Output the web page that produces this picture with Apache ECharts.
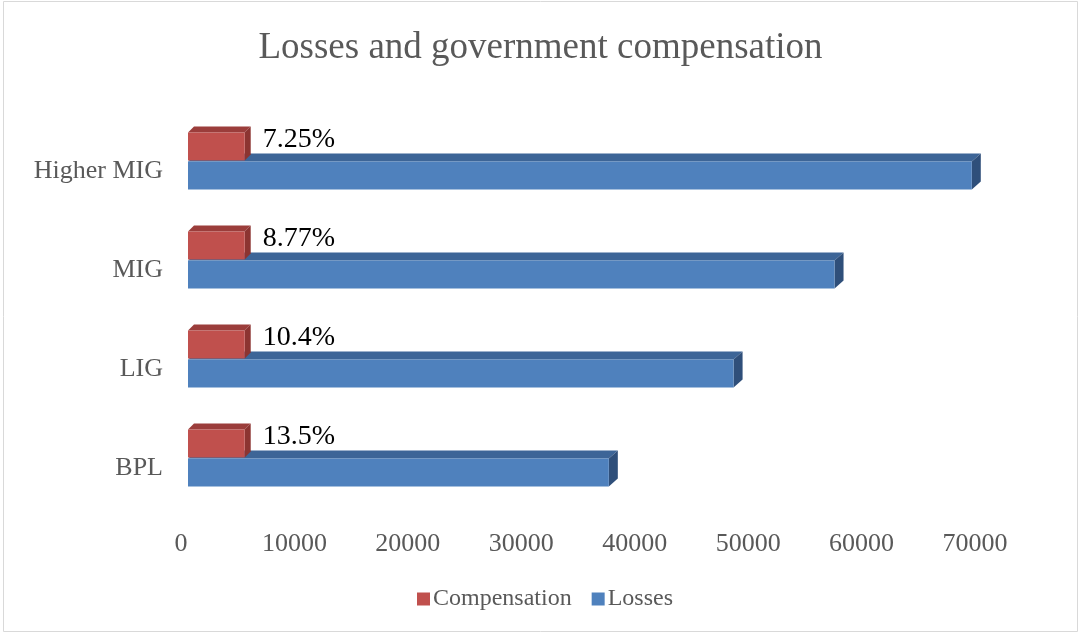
<!DOCTYPE html>
<html>
<head>
<meta charset="utf-8">
<script src="https://cdn.jsdelivr.net/npm/echarts@6/dist/echarts.min.js"></script>
<style>
html,body{margin:0;padding:0;background:#fff;}
#chart{width:1081px;height:635px;}
</style>
</head>
<body>
<div id="chart"></div>
<script>
const categories = ['BPL', 'LIG', 'MIG', 'Higher MIG'];
const losses = [37100, 48100, 57000, 69100];
const compensation = [5000, 5000, 5000, 5000];
const compLabels = ['13.5%', '10.4%', '8.77%', '7.25%'];
const xMin = 0, xMax = 70000, xInterval = 10000;

const FONT = 'Liberation Serif';

function boxRenderer(colors, y0off, y1off, dx, dy, labels) {
  return function (params, api) {
    const idx = api.value(0);
    const end = api.coord([api.value(1), idx]);
    const start = api.coord([0, idx]);
    const yc = end[1];
    const x0 = start[0], x1 = end[0];
    const top = yc + y0off, bot = yc + y1off;
    const children = [
      { type: 'polygon', shape: { points: [[x0, top], [x0 + dx, top - dy], [x1 + dx, top - dy], [x1, top]] }, style: { fill: colors.top } },
      { type: 'polygon', shape: { points: [[x1, top], [x1 + dx, top - dy], [x1 + dx, bot - dy], [x1, bot]] }, style: { fill: colors.side } },
      { type: 'rect', shape: { x: x0, y: top, width: x1 - x0, height: bot - top }, style: { fill: colors.front } }
    ];
    if (labels) {
      children.push({
        type: 'text',
        style: {
          text: labels[params.dataIndex], x: x1 + 18, y: yc - 32,
          fill: '#000', font: '28px "' + FONT + '"', align: 'left', verticalAlign: 'middle'
        }
      });
    }
    return { type: 'group', children: children };
  };
}

const chart = echarts.init(document.getElementById('chart'));
chart.setOption({
  animation: false,
  backgroundColor: '#fff',
  textStyle: { fontFamily: FONT },
  title: {
    text: 'Losses and government compensation',
    left: 'center', top: 25,
    textStyle: { fontFamily: FONT, fontSize: 37, fontWeight: 'normal', color: '#595959' }
  },
  legend: {
    data: ['Compensation', 'Losses'],
    bottom: 19, left: 412,
    icon: 'rect', itemWidth: 13, itemHeight: 13, itemGap: 20,
    textStyle: { fontFamily: FONT, fontSize: 24, color: '#595959', padding: [0, 0, 0, -2] }
  },
  grid: { left: 188, right: 99, top: 122, bottom: 117 },
  xAxis: {
    type: 'value', min: xMin, max: xMax, interval: xInterval,
    axisLine: { show: false }, axisTick: { show: false }, splitLine: { show: false },
    axisLabel: {
      fontFamily: FONT, fontSize: 26, color: '#595959', margin: 13, padding: [0, 14, 0, 0],
      formatter: function (v) { return String(v); }
    }
  },
  yAxis: {
    type: 'category', data: categories,
    axisLine: { show: false }, axisTick: { show: false },
    axisLabel: { fontFamily: FONT, fontSize: 26, color: '#595959', margin: 25 }
  },
  graphic: [{
    type: 'rect', shape: { x: 3.5, y: 1.5, width: 1074, height: 630 },
    style: { fill: 'none', stroke: '#d9d9d9', lineWidth: 1 }, silent: true, z: -10
  }],
  series: [
    {
      name: 'Losses', type: 'custom', z: 2,
      itemStyle: { color: '#4f81bd' },
      encode: { x: 1, y: 0 },
      data: losses.map((v, i) => [i, v]),
      renderItem: boxRenderer({ front: '#4f81bd', top: '#3d6597', side: '#2f4f7a' }, -10, 18, 9, 8, null)
    },
    {
      name: 'Compensation', type: 'custom', z: 3,
      itemStyle: { color: '#c0504d' },
      encode: { x: 1, y: 0 },
      data: compensation.map((v, i) => [i, v]),
      renderItem: boxRenderer({ front: '#c0504d', top: '#9b3d3b', side: '#8c3431' }, -39, -11, 6, 6, compLabels)
    }
  ]
});
</script>
</body>
</html>
